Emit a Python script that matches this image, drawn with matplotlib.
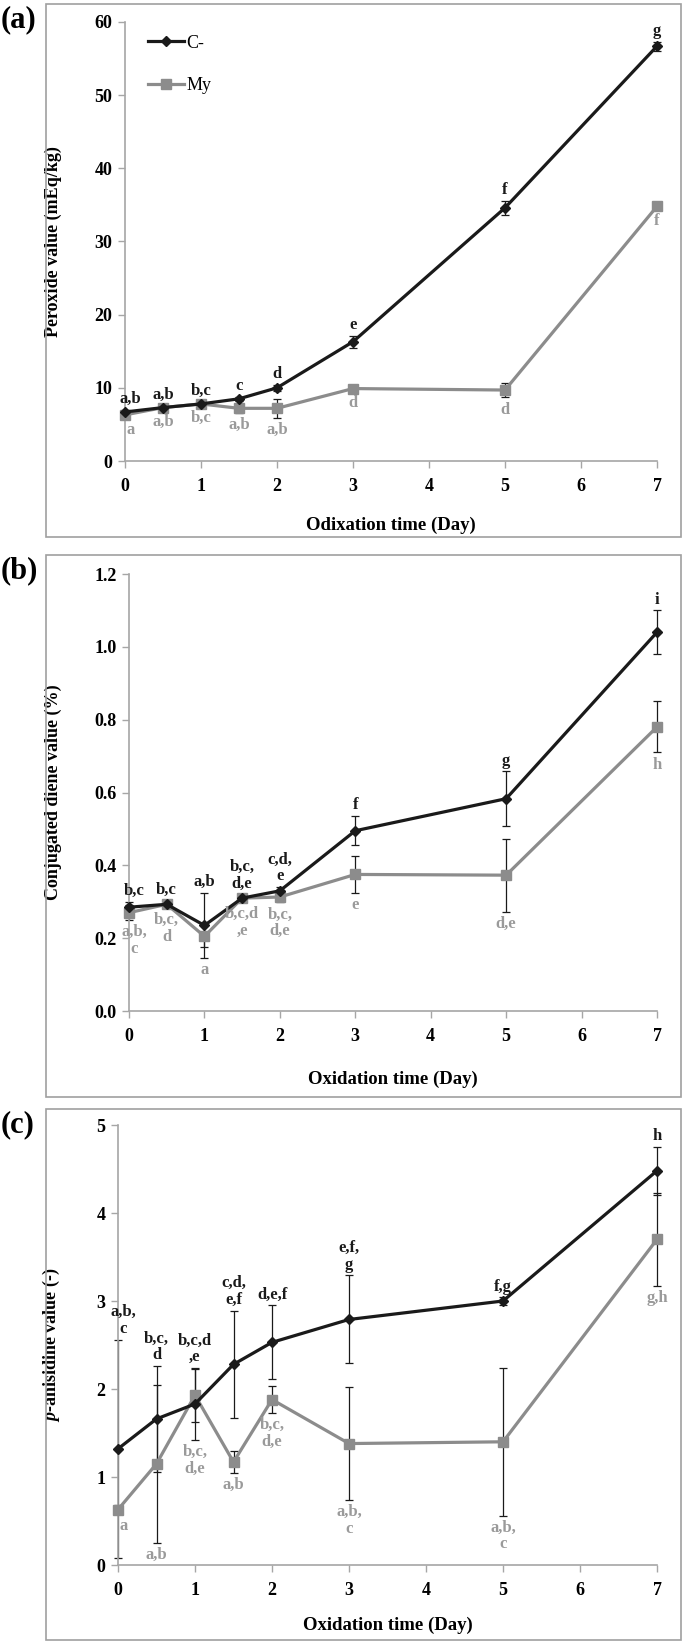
import matplotlib
matplotlib.use("Agg")
import matplotlib.pyplot as plt
from matplotlib.patches import Rectangle
import numpy as np

plt.rcParams['font.family'] = ['Liberation Serif', 'DejaVu Serif']
plt.rcParams['mathtext.fontset'] = 'custom'
plt.rcParams['mathtext.it'] = 'Liberation Serif:italic:bold'
plt.rcParams['mathtext.rm'] = 'Liberation Serif:bold'

# ---------------- data ----------------
days = [0, 0.5, 1, 1.5, 2, 3, 5, 7]

# (a) peroxide value
pv_c = [6.7, 7.3, 7.8, 8.5, 10.0, 16.3, 34.6, 56.7]
pv_c_err = [0.3, 0.3, 0.3, 0.3, 0.4, 0.8, 1.0, 0.6]
pv_m = [6.3, 7.3, 7.8, 7.2, 7.2, 9.9, 9.7, 34.8]
pv_m_err = [0.4, 0.3, 0.3, 0.6, 1.3, 0.3, 1.0, 0.4]
pv_c_lab = ["a,b", "a,b", "b,c", "c", "d", "e", "f", "g"]
pv_m_lab = ["a", "a,b", "b,c", "a,b", "a,b", "d", "d", "f"]

# (b) conjugated diene value
cd_c = [0.285, 0.293, 0.235, 0.31, 0.33, 0.495, 0.583, 1.04]
cd_c_err = [0.015, 0.01, 0.09, 0.01, 0.01, 0.04, 0.075, 0.06]
cd_m = [0.27, 0.293, 0.205, 0.31, 0.313, 0.375, 0.373, 0.78]
cd_m_err = [0.02, 0.01, 0.03, 0.005, 0.015, 0.05, 0.1, 0.07]
cd_c_lab = ["b,c", "b,c", "a,b", "b,c,\nd,e", "c,d,\ne", "f", "g", "i"]
cd_m_lab = ["a,b,\nc", "b,c,\nd", "a", "b,c,d\n,e", "b,c,\nd,e", "e", "d,e", "h"]

# (c) p-anisidine value
av_c = [1.32, 1.66, 1.83, 2.28, 2.53, 2.79, 3.0, 4.48]
av_c_err = [1.24, 0.6, 0.41, 0.61, 0.42, 0.5, 0.04, 0.27]
av_m = [0.63, 1.15, 1.93, 1.17, 1.88, 1.38, 1.4, 3.7]
av_m_err = [0.05, 0.9, 0.3, 0.12, 0.15, 0.64, 0.84, 0.53]
av_c_lab = ["a,b,\nc", "b,c,\nd", "b,c,d\n,e", "c,d,\ne,f", "d,e,f", "e,f,\ng", "f,g", "h"]
av_m_lab = ["a", "a,b", "b,c,\nd,e", "a,b", "b,c,\nd,e", "a,b,\nc", "a,b,\nc", "g,h"]

series_names = ["C-", "My"]

# ---------------- style ----------------
BLACK = '#1a1a1a'
GRAY = '#8c8c8c'
LABGRAY = '#9a9a9a'
SPINE = '#a6a6a6'

W, H = 685, 1642
fig = plt.figure(figsize=(W / 100, H / 100), dpi=100)


def fx(px):
    return px / W


def fy(px):
    return 1 - px / H


panels = [
    dict(box=(46, 4, 681, 537), ax=(125, 22, 657, 461), lab="(a)",
         c=pv_c, ce=pv_c_err, m=pv_m, me=pv_m_err, cl=pv_c_lab, ml=pv_m_lab,
         ylim=(0, 60), yticks=np.arange(0, 61, 10), yfmt="{:.0f}",
         ylabel="Peroxide value (mEq/kg)", xlabel="Odixation time (Day)",
         xlab_y=525, legend=True, own_low=()),
    dict(box=(46, 555, 681, 1097), ax=(129, 574, 657, 1011), lab="(b)",
         c=cd_c, ce=cd_c_err, m=cd_m, me=cd_m_err, cl=cd_c_lab, ml=cd_m_lab,
         ylim=(0, 1.2), yticks=np.arange(0, 1.21, 0.2), yfmt="{:.1f}",
         ylabel="Conjugated diene value (%)", xlabel="Oxidation time (Day)",
         xlab_y=1079, legend=False, own_low=()),
    dict(box=(46, 1109, 681, 1640), ax=(118, 1125, 657, 1565), lab="(c)",
         c=av_c, ce=av_c_err, m=av_m, me=av_m_err, cl=av_c_lab, ml=av_m_lab,
         ylim=(0, 5), yticks=np.arange(0, 5.1, 1), yfmt="{:.0f}",
         ylabel=r"$p$-anisidine value (-)", xlabel="Oxidation time (Day)",
         xlab_y=1625, legend=False, own_low=(0,)),
]

for p in panels:
    bx0, by0, bx1, by1 = p['box']
    fig.add_artist(Rectangle((fx(bx0), fy(by1)), fx(bx1) - fx(bx0), fy(by0) - fy(by1),
                             transform=fig.transFigure, fill=False,
                             edgecolor='#a0a0a0', linewidth=1.2))
    fig.text(fx(1), fy(by0 + 1), p['lab'], ha='left', va='top',
             fontsize=22, fontweight='bold')

    ax0, ay0, ax1, ay1 = p['ax']
    ax = fig.add_axes([fx(ax0), fy(ay1), fx(ax1) - fx(ax0), fy(ay0) - fy(ay1)])
    ax.set_xlim(0, 7)
    ax.set_ylim(*p['ylim'])
    for s in ['top', 'right']:
        ax.spines[s].set_visible(False)
    for s in ['left', 'bottom']:
        ax.spines[s].set_color(SPINE)
        ax.spines[s].set_linewidth(1.2)
    ax.tick_params(axis='both', direction='out', color=SPINE, length=5, width=1.0,
                   labelsize=13, pad=4)
    ax.set_xticks(range(0, 8))
    ax.set_yticks(p['yticks'])
    ax.set_yticklabels([p['yfmt'].format(v) for v in p['yticks']])
    for t in ax.get_xticklabels() + ax.get_yticklabels():
        t.set_fontweight('bold')
    ax.tick_params(axis='x', pad=7)
    ax.patch.set_alpha(0)

    # error bars (black for both series)
    ax.errorbar(days, p['m'], yerr=p['me'], fmt='none', ecolor=BLACK,
                elinewidth=0.9, capsize=3, capthick=0.9, zorder=2, clip_on=False)
    ax.errorbar(days, p['c'], yerr=p['ce'], fmt='none', ecolor=BLACK,
                elinewidth=0.9, capsize=3, capthick=0.9, zorder=2, clip_on=False)
    ax.plot(days, p['m'], color=GRAY, lw=2.3, marker='s', ms=7.5,
            markerfacecolor=GRAY, markeredgecolor=GRAY, zorder=3, clip_on=False,
            label=series_names[1])
    ax.plot(days, p['c'], color=BLACK, lw=2.3, marker='D', ms=5,
            markerfacecolor=BLACK, markeredgecolor=BLACK, zorder=4, clip_on=False,
            label=series_names[0])

    # significance letters
    for i, d in enumerate(days):
        dx = 4 if i == 0 else 0
        top = p['c'][i] + p['ce'][i]
        ax.annotate(p['cl'][i], xy=(d, top), xytext=(dx, 2), textcoords='offset points',
                    ha='center', va='bottom', fontsize=12, fontweight='bold',
                    color=BLACK, linespacing=1.05, multialignment='center',
                    annotation_clip=False, zorder=5)
        if i in p['own_low']:
            low = p['m'][i] - p['me'][i]
        else:
            low = min(p['m'][i] - p['me'][i], p['c'][i] - p['ce'][i])
        ax.annotate(p['ml'][i], xy=(d, low), xytext=(dx, -3), textcoords='offset points',
                    ha='center', va='top', fontsize=12, fontweight='bold',
                    color=LABGRAY, linespacing=1.05, multialignment='center',
                    annotation_clip=False, zorder=5)

    ax.set_ylabel(p['ylabel'], fontsize=13, fontweight='bold')
    ax.yaxis.set_label_coords((62 - ax0) / (ax1 - ax0), 0.5)
    ax.set_xlabel(p['xlabel'], fontsize=13.5, fontweight='bold')
    ax.xaxis.set_label_coords(0.5, -(p['xlab_y'] - ay1) / (ay1 - ay0))
    ax.xaxis.label.set_va('center')

    if p['legend']:
        h, l = ax.get_legend_handles_labels()
        ax.legend(h[::-1], l[::-1], loc='upper left', bbox_to_anchor=(0.02, 1.0),
                  frameon=False, fontsize=13, handlelength=2.0, handletextpad=0.1,
                  labelspacing=1.4, borderaxespad=0.3)

fig.savefig("out.png", dpi=100)
